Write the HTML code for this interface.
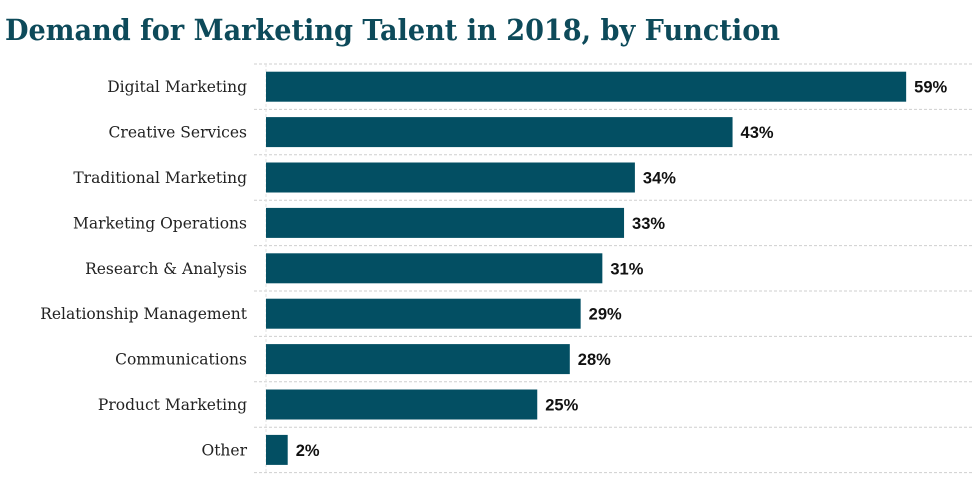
<!DOCTYPE html>
<html><head><meta charset="utf-8"><style>
body{margin:0;background:#fff;}
svg{display:block;}
</style></head><body>
<svg id="chart" width="979" height="481" xmlns="http://www.w3.org/2000/svg">
<text x="5" y="40" font-family="'DejaVu Serif', serif" font-weight="bold" font-size="29" fill="#0d4a5a" textLength="775" lengthAdjust="spacingAndGlyphs">Demand for Marketing Talent in 2018, by Function</text>
<g id="grid"></g>
<g id="bars"></g>
</svg>
<script>
const categories=["Digital Marketing","Creative Services","Traditional Marketing","Marketing Operations","Research & Analysis","Relationship Management","Communications","Product Marketing","Other"];
const values=[59,43,34,33,31,29,28,25,2];
const valueLabels=["59%","43%","34%","33%","31%","29%","28%","25%","2%"];
const NS="http://www.w3.org/2000/svg";
const x0=266, pxPer=10.85, top0=64, band=45.4, barH=30;
const xScale=v=>x0+v*pxPer;
const yBand=i=>top0+band*i;
const grid=document.getElementById('grid'), bars=document.getElementById('bars');
function mk(tag,attrs,parent){const e=document.createElementNS(NS,tag);for(const k in attrs)e.setAttribute(k,attrs[k]);parent.appendChild(e);return e;}
for(let i=0;i<=categories.length;i++){
  const l=mk('line',{x1:254,x2:972,y1:yBand(i),y2:yBand(i),stroke:'#cfcfcf','stroke-dasharray':'3,2','stroke-width':1},grid);
  
  
}
const ax=mk('line',{x1:x0,x2:x0,y1:yBand(0),y2:yBand(categories.length),stroke:'#e0e0e0','stroke-dasharray':'3,2'},grid);


categories.forEach((c,i)=>{
  const cy=yBand(i)+band/2;
  const lab=mk('text',{x:247,y:cy+5.5,'text-anchor':'end','font-family':"'DejaVu Serif', serif",'font-size':15.5,fill:'#222'},bars);
  lab.textContent=c;
  
  
  const r=mk('rect',{x:x0,y:cy-barH/2,width:xScale(values[i])-x0,height:barH,fill:'#034f63'},bars);
  
  
  const v=mk('text',{x:xScale(values[i])+8,y:cy+6,'font-family':"'Liberation Sans', sans-serif",'font-weight':'bold','font-size':16.5,fill:'#111'},bars);
  v.textContent=valueLabels[i];
  
  
});
</script>
</body></html>
